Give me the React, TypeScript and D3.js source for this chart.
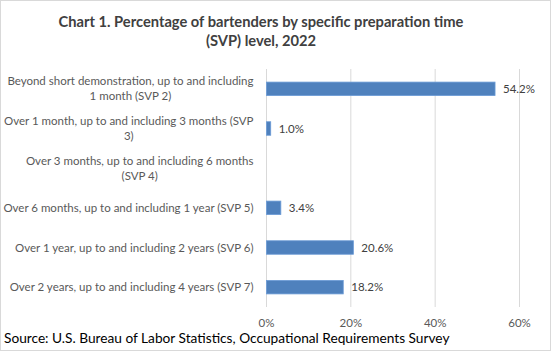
import React, { useEffect, useRef } from 'react';
import * as d3 from 'd3';

// chart data
const categories = [
  'Beyond short demonstration, up to and including\n1 month (SVP 2)',
  'Over 1 month, up to and including 3 months (SVP\n3)',
  'Over 3 months, up to and including 6 months\n(SVP 4)',
  'Over 6 months, up to and including 1 year (SVP 5)',
  'Over 1 year, up to and including 2 years (SVP 6)',
  'Over 2 years, up to and including 4 years (SVP 7)',
];
const values: (number | null)[] = [54.2, 1.0, null, 3.4, 20.6, 18.2];
const xTicks = [0, 20, 40, 60];
const titleLines = [
  'Chart 1. Percentage of bartenders by specific preparation time',
  '(SVP) level, 2022',
];
const sourceText = 'Source: U.S. Bureau of Labor Statistics, Occupational Requirements Survey';

const W = 551;
const H = 351;
const FONT = 'Lato, "Liberation Sans", sans-serif';

function App() {
  const svgRef = useRef<SVGSVGElement>(null);

  useEffect(() => {
    if (!svgRef.current) return;
    const svg = d3.select(svgRef.current);
    svg.selectAll('*').remove();

    svg.append('rect')
      .attr('x', 0.5).attr('y', 0.5)
      .attr('width', W - 1).attr('height', H - 1)
      .attr('fill', '#fff')
      .attr('stroke', '#d9d9d9');

    // title
    svg.append('text')
      .attr('text-anchor', 'middle')
      .attr('font-family', FONT)
      .attr('font-weight', 'bold')
      .attr('font-size', 14.7)
      .attr('fill', '#404040')
      .selectAll('tspan')
      .data(titleLines)
      .join('tspan')
      .attr('x', 261)
      .attr('y', (d, i) => 27 + i * 19)
      .text(d => d);

    const x = d3.scaleLinear().domain([0, 60]).range([266.5, 519.5]);
    const y = d3.scaleBand<number>()
      .domain(d3.range(categories.length))
      .range([69, 307])
      .paddingInner(0.66)
      .paddingOuter(0.33);

    // gridlines
    svg.append('g')
      .selectAll('line')
      .data(xTicks)
      .join('line')
      .attr('x1', d => x(d)).attr('x2', d => x(d))
      .attr('y1', 69).attr('y2', 307)
      .attr('stroke', '#d9d9d9')
      .attr('stroke-width', 1);

    // tick labels
    svg.append('g')
      .selectAll('text')
      .data(xTicks)
      .join('text')
      .attr('x', d => x(d))
      .attr('y', 327)
      .attr('text-anchor', 'middle')
      .attr('font-family', FONT)
      .attr('font-size', 11.5)
      .attr('fill', '#595959')
      .text(d => d + '%');

    // bars
    const data = values.map((v, i) => ({ v, i })).filter(d => d.v !== null) as { v: number; i: number }[];
    svg.append('g')
      .selectAll('rect')
      .data(data)
      .join('rect')
      .attr('x', x(0))
      .attr('y', d => y(d.i)!)
      .attr('width', d => x(d.v) - x(0))
      .attr('height', y.bandwidth())
      .attr('fill', '#4f81bd')
      .attr('stroke', '#6b9bd6')
      .attr('stroke-width', 0.8);

    // data labels
    svg.append('g')
      .selectAll('text')
      .data(data)
      .join('text')
      .attr('x', d => x(d.v) + 8)
      .attr('y', d => y(d.i)! + y.bandwidth() / 2 + 4)
      .attr('font-family', FONT)
      .attr('font-size', 11.5)
      .attr('fill', '#404040')
      .text(d => d.v.toFixed(1) + '%');

    // category labels, wrapped lines centred on each other, block right-aligned
    const labelRight = 253.5;
    const lg = svg.append('g')
      .attr('font-family', FONT)
      .attr('font-size', 11.5)
      .attr('fill', '#595959');
    categories.forEach((c, i) => {
      const lines = c.split('\n');
      const cy = y(i)! + y.bandwidth() / 2;
      const t = lg.append('text');
      const tspans = lines.map((l, j) =>
        t.append('tspan')
          .attr('y', cy + 4 + (j - (lines.length - 1) / 2) * 15)
          .text(l)
      );
      const widths = tspans.map(s => (s.node() as SVGTSpanElement).getComputedTextLength());
      const maxW = d3.max(widths) || 0;
      const mid = labelRight - maxW / 2;
      tspans.forEach(s => s.attr('x', mid).attr('text-anchor', 'middle'));
    });

    // source
    svg.append('text')
      .attr('x', 4)
      .attr('y', 343)
      .attr('font-family', FONT)
      .attr('font-size', 13.7)
      .attr('fill', '#000')
      .text(sourceText);
  }, []);

  return (
    <svg
      ref={svgRef}
      width={W}
      height={H}
      style={{ position: 'fixed', left: 0, top: 0, display: 'block' }}
    />
  );
}

export default App;
